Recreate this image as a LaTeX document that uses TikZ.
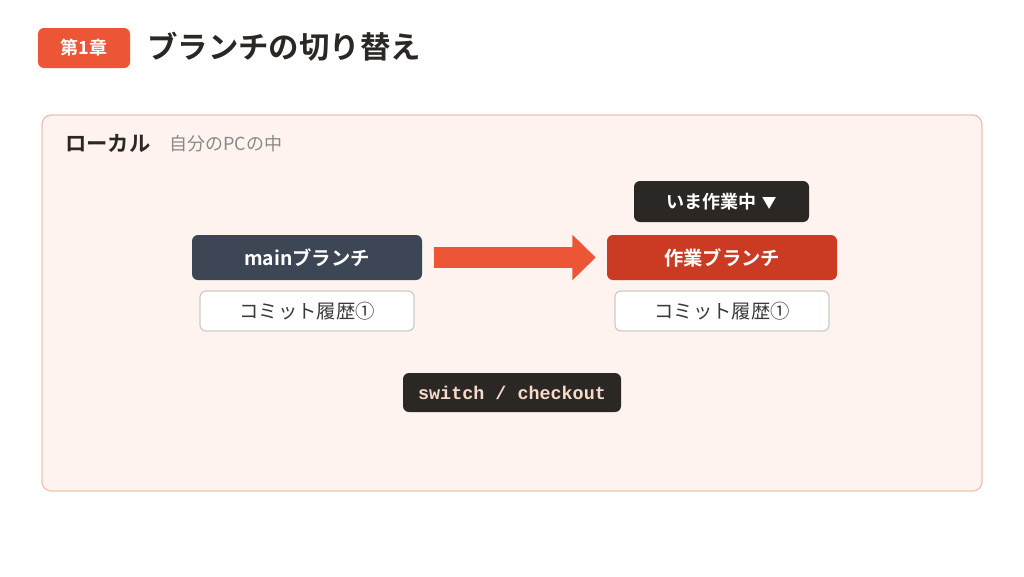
\documentclass[tikz,border=0pt]{standalone}
\usepackage{fontspec}
\setmainfont{Noto Sans CJK JP}
\newfontfamily\jpb{Noto Sans CJK JP Bold}
\newfontfamily\jp{Noto Sans CJK JP}
\newfontfamily\monob{Liberation Mono}[BoldFont={* Bold}]
\usetikzlibrary{arrows.meta}
\definecolor{accent}{HTML}{EC5536}
\definecolor{workred}{HTML}{CB3B24}
\definecolor{slate}{HTML}{3D4654}
\definecolor{ink}{HTML}{2B2725}
\definecolor{panelfill}{HTML}{FEF3EF}
\definecolor{panelline}{HTML}{F0C2B3}
\definecolor{peach}{HTML}{F6DCC8}
\definecolor{graytext}{HTML}{8A8A8A}
\definecolor{boxline}{HTML}{CFCAC7}
\definecolor{commitink}{HTML}{3A3A3A}
\tikzset{
  branchbox/.style={rounded corners=4.5pt, minimum width=172.5pt, minimum height=33.75pt,
    inner sep=0pt, text=white, font=\jpb\fontsize{14.5pt}{17pt}\selectfont},
  commitbox/.style={draw=boxline, line width=0.9pt, fill=white, rounded corners=4.5pt,
    minimum width=160.5pt, minimum height=30pt, inner sep=0pt, text=commitink,
    font=\jp\fontsize{14.5pt}{17pt}\selectfont},
  darkpill/.style={fill=ink, rounded corners=4.5pt, inner sep=0pt},
}
\begin{document}
\begin{tikzpicture}[x=0.75pt,y=-0.75pt]
\useasboundingbox[fill=white] (0,0) rectangle (1024,576);
% header
\node[fill=accent, rounded corners=4.5pt, minimum width=69pt, minimum height=30pt, inner sep=0pt,
  text=white, font=\jpb\fontsize{13.5pt}{15pt}\selectfont] (badge) at (84,48) {第1章};
\node[anchor=west, inner sep=0pt, text=ink, font=\jpb\fontsize{22.8pt}{26pt}\selectfont] (title) at (147,47) {ブランチの切り替え};
% panel
\node[draw=panelline, line width=1pt, fill=panelfill, rounded corners=7pt,
  minimum width=705pt, minimum height=282pt, inner sep=0pt] (panel) at (512,303) {};
\node[anchor=west, inner sep=0pt, text=ink, font=\jpb\fontsize{16pt}{18pt}\selectfont] (local) at (65,143) {ローカル};
\node[anchor=west, inner sep=0pt, text=graytext, font=\jp\fontsize{13.5pt}{16pt}\selectfont] (pc) at (169,144) {自分のPCの中};
% branches
\node[branchbox, fill=slate] (main) at (307,257.5) {mainブランチ};
\node[branchbox, fill=workred] (work) at (722,257.5) {作業ブランチ};
\node[commitbox] (c1) at (307,311) {コミット履歴①};
\node[commitbox] (c2) at (722,311) {コミット履歴①};
\node[darkpill, minimum width=131.25pt, minimum height=30.75pt, text=white,
  font=\jpb\fontsize{13.5pt}{16pt}\selectfont] (now) at (721.5,201.5) {いま作業中\hspace{4pt}{\fontsize{11pt}{13pt}\selectfont ▼}};
\node[darkpill, minimum width=163.5pt, minimum height=29.25pt, text=peach,
  font=\monob\bfseries\fontsize{13.8pt}{16pt}\selectfont] (cmd) at (512,392.5) {switch / checkout};
% arrow
\draw[accent, line width=15.75pt, -{Triangle[width=33pt,length=17.5pt]},
  shorten <=9pt, shorten >=8.25pt] (main.east) -- (work.west);
\end{tikzpicture}
\end{document}
